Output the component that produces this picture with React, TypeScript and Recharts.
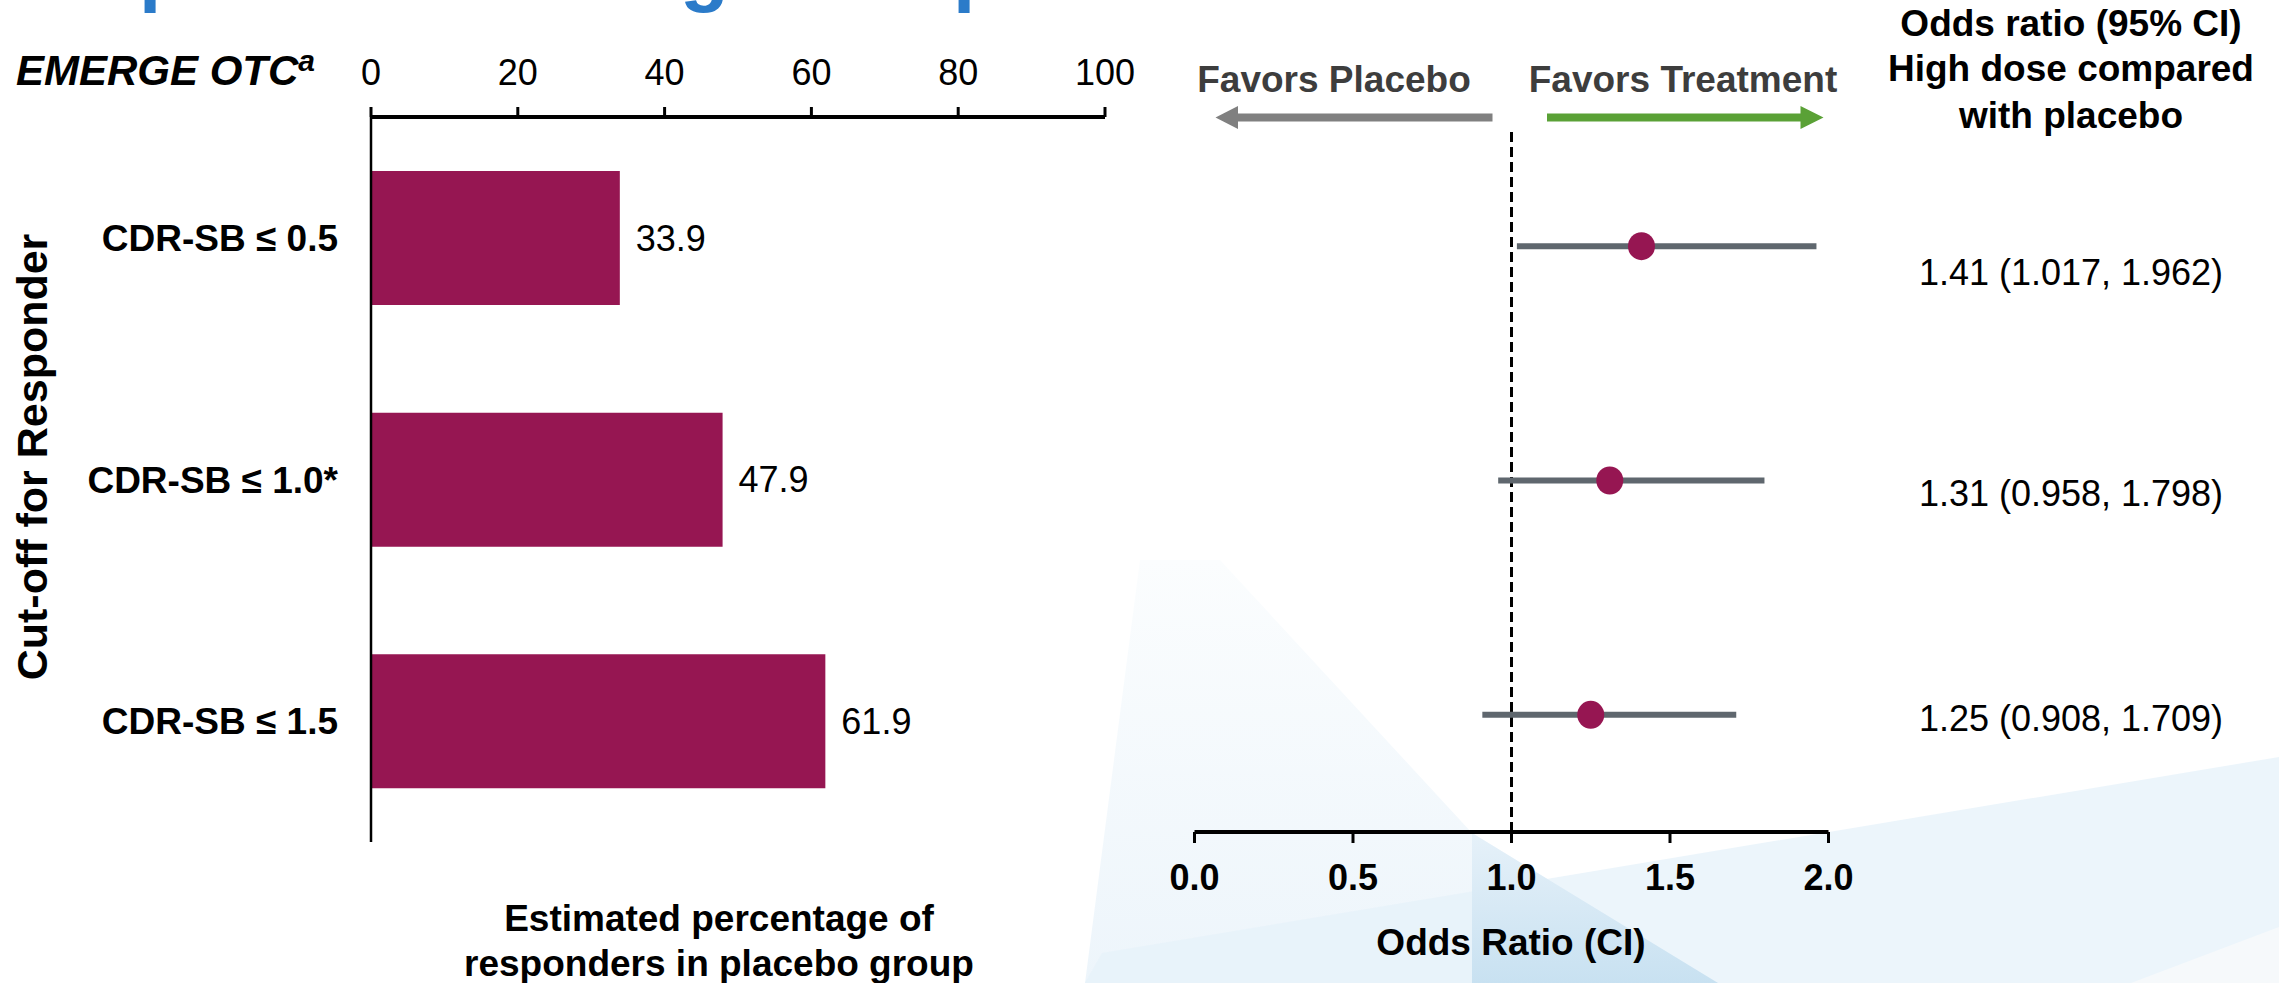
import React from "react";
import {
  BarChart,
  Bar,
  XAxis,
  YAxis,
  LabelList,
  ScatterChart,
  Scatter,
  ReferenceLine,
} from "recharts";

// ---------------------------------------------------------------------------
// Data
// ---------------------------------------------------------------------------

const categories = ["CDR-SB ≤ 0.5", "CDR-SB ≤ 1.0*", "CDR-SB ≤ 1.5"];
const placeboPct = [33.9, 47.9, 61.9];
const oddsRatio = [1.41, 1.31, 1.25];
const ciLow = [1.017, 0.958, 0.908];
const ciHigh = [1.962, 1.798, 1.709];

const pctTicks = [0, 20, 40, 60, 80, 100];
const orTicks = [0, 0.5, 1, 1.5, 2];

// ---------------------------------------------------------------------------
// Styles
// ---------------------------------------------------------------------------

const FONT = "'Liberation Sans', Arial, sans-serif";
const BAR = "#961652";
const CI_LINE = "#5f676e";

const barData = categories.map((label, i) => ({ label, pct: placeboPct[i] }));
const pointData = oddsRatio.map((x, i) => ({ x, y: i + 1 }));
const ciData = ciLow.map((lo, i) => [
  { x: lo, y: i + 1 },
  { x: ciHigh[i], y: i + 1 },
]);
// vertical positions of the right-hand value column (layout only)
const rowTextY = [272, 493, 718];

const Dot = (props: any) => (
  <ellipse cx={props.cx} cy={props.cy} rx={13.5} ry={14} fill={BAR} />
);
const NoShape = () => <g />;

export default function App() {
  return (
    <div
      style={{
        position: "absolute",
        left: 0,
        top: 0,
        width: 2279,
        height: 983,
        overflow: "hidden",
        background: "#ffffff",
        fontFamily: FONT,
      }}
    >
      {/* soft background swooshes */}
      <svg
        width={2279}
        height={983}
        style={{ position: "absolute", left: 0, top: 0 }}
      >
        <defs>
          <linearGradient id="wedge" x1="0" y1="0" x2="0" y2="1">
            <stop offset="0%" stopColor="#e6f1f9" />
            <stop offset="100%" stopColor="#c8e1f1" />
          </linearGradient>
          <linearGradient id="fan" x1="0" y1="0" x2="0" y2="1">
            <stop offset="0%" stopColor="#fbfdfe" />
            <stop offset="100%" stopColor="#edf5fb" />
          </linearGradient>
        </defs>
        <polygon
          points="1140,560 1220,560 1472,833 1718,983 1085,983"
          fill="url(#fan)"
        />
        <polygon
          points="1085,983 1102,953 2279,757 2279,983"
          fill="#e6f1f9"
          opacity={0.75}
        />
        <polygon points="1472,833 1718,983 1472,983" fill="url(#wedge)" />
        <polygon points="2131,983 2279,927 2279,983" fill="#f6f9fb" />
      </svg>

      {/* left: estimated percentage of responders */}
      <div style={{ position: "absolute", left: 0, top: 0 }}>
        <BarChart
          layout="vertical"
          width={1200}
          height={983}
          data={barData}
          margin={{ top: 0, right: 95, bottom: 141, left: 0 }}
          barSize={134}
        >
          <XAxis
            type="number"
            orientation="top"
            domain={[0, 100]}
            ticks={pctTicks}
            interval={0}
            height={117}
            axisLine={{ stroke: "#000", strokeWidth: 4 }}
            tickLine={{ stroke: "#000", strokeWidth: 3 }}
            tickSize={10}
            tickMargin={22}
            tick={{ fill: "#000", fontSize: 36, fontFamily: FONT }}
          />
          <YAxis
            type="category"
            dataKey="label"
            width={371}
            axisLine={{ stroke: "#000", strokeWidth: 2.5 }}
            tickLine={false}
            tickSize={0}
            tickMargin={33}
            interval={0}
            tick={{
              fill: "#000",
              fontSize: 37,
              fontWeight: 700,
              fontFamily: FONT,
            }}
          />
          <Bar dataKey="pct" fill={BAR} isAnimationActive={false}>
            <LabelList
              dataKey="pct"
              position="right"
              offset={16}
              fill="#000"
              fontSize={36}
              fontFamily={FONT}
              formatter={(v: any) => Number(v).toFixed(1)}
            />
          </Bar>
        </BarChart>
      </div>

      {/* right: odds ratio forest plot */}
      <div style={{ position: "absolute", left: 1100, top: 0 }}>
        <ScatterChart
          width={800}
          height={983}
          margin={{ top: 129, right: 71.5, bottom: 71, left: 94.5 }}
        >
          <XAxis
            type="number"
            dataKey="x"
            domain={[0, 2]}
            ticks={orTicks}
            interval={0}
            height={80}
            tickFormatter={(v: number) => v.toFixed(1)}
            axisLine={{ stroke: "#000", strokeWidth: 4 }}
            tickLine={{ stroke: "#000", strokeWidth: 3 }}
            tickSize={11}
            tickMargin={21}
            tick={{
              fill: "#000",
              fontSize: 36,
              fontWeight: 700,
              fontFamily: FONT,
            }}
          />
          <YAxis
            type="number"
            dataKey="y"
            domain={[0.5, 3.5]}
            reversed
            hide
            width={0}
          />
          {ciData.map((seg, i) => (
            <Scatter
              key={i}
              data={seg}
              line={{ stroke: CI_LINE, strokeWidth: 6 }}
              fill={CI_LINE}
              shape={NoShape}
              isAnimationActive={false}
            />
          ))}
          <ReferenceLine
            x={1}
            stroke="#000"
            strokeWidth={3}
            strokeDasharray="10 5"
          />
          <Scatter
            data={pointData}
            fill={BAR}
            shape={Dot}
            isAnimationActive={false}
          />
        </ScatterChart>
      </div>

      {/* titles, arrows and value column */}
      <svg
        width={2279}
        height={983}
        style={{ position: "absolute", left: 0, top: 0, pointerEvents: "none" }}
        fontFamily={FONT}
      >
        <g fill="#2b7bc9" fontSize={80} fontWeight={700}>
          <text x={139} y={-4}>p</text>
          <text x={680} y={-4}>g</text>
          <text x={953} y={-4}>p</text>
        </g>

        <text x={16} y={85} fontSize={42} fontWeight={700} fontStyle="italic" fill="#000">
          EMERGE OTC
          <tspan fontSize={30} dy={-14}>a</tspan>
        </text>

        <text
          transform="translate(47,457) rotate(-90)"
          textAnchor="middle"
          fontSize={43}
          fontWeight={700}
          fill="#000"
        >
          Cut-off for Responder
        </text>

        <g textAnchor="middle" fontSize={37} fontWeight={700} fill="#000">
          <text x={719} y={931}>Estimated percentage of</text>
          <text x={719} y={976}>responders in placebo group</text>
          <text x={1511} y={955}>Odds Ratio (CI)</text>
          <text x={2071} y={36}>Odds ratio (95% CI)</text>
          <text x={2071} y={81}>High dose compared</text>
          <text x={2071} y={128}>with placebo</text>
        </g>

        <g textAnchor="middle" fontSize={37} fontWeight={700} fill="#3d3d3d">
          <text x={1334} y={92}>Favors Placebo</text>
          <text x={1683} y={92}>Favors Treatment</text>
        </g>

        <polygon
          points="1492.5,113.5 1238,113.5 1238,106 1215.5,117.5 1238,129 1238,121.5 1492.5,121.5"
          fill="#808080"
        />
        <polygon
          points="1547,113.5 1800.5,113.5 1800.5,106 1823.5,117.5 1800.5,129 1800.5,121.5 1547,121.5"
          fill="#5aa136"
        />

        <g textAnchor="middle" fontSize={36} fill="#000">
          {oddsRatio.map((v, i) => (
            <text key={i} x={2071} y={rowTextY[i] + 13}>
              {`${v.toFixed(2)} (${ciLow[i].toFixed(3)}, ${ciHigh[i].toFixed(3)})`}
            </text>
          ))}
        </g>
      </svg>
    </div>
  );
}
